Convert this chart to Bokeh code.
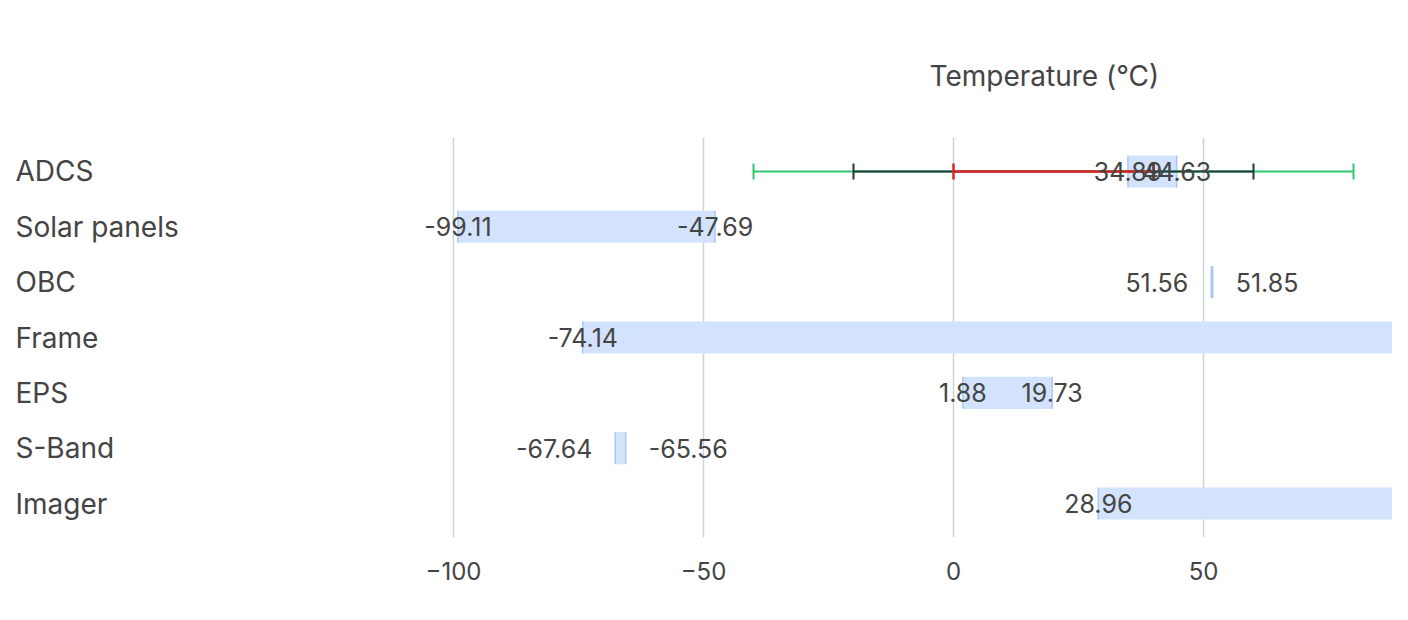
import numpy as np
from bokeh.plotting import figure
from bokeh.models import Range1d, FactorRange, FixedTicker, ColumnDataSource, Title
from bokeh.core.properties import value
from bokeh.embed import file_html
from bokeh.resources import INLINE

# ---------------- data ----------------
subsystems = ["ADCS", "Solar panels", "OBC", "Frame", "EPS", "S-Band", "Imager"]
temp_min = [34.89, -99.11, 51.56, -74.14, 1.88, -67.64, 28.96]
temp_max = [44.63, -47.69, 51.85, 112.0, 19.73, -65.56, 105.0]

limit_subsystem = ["ADCS", "ADCS", "ADCS"]
limit_lower = [-40, -20, 0]
limit_upper = [80, 60, 40]

x_ticks = [-100, -50, 0, 50]
x_tick_labels = ["\u2212100", "\u221250", "0", "50"]

# ---------------- style ----------------
FONT = "Inter"
TEXT_COLOR = "#444444"
limit_colors = ["#2ecc71", "#1d3b36", "#dc2626"]
limit_widths = [2, 2, 2.5]
W, H = 1392, 604
X_START = -190.6
X_END = X_START + W / 5.0
NARROW = 5.0

p = figure(
    width=W, height=H,
    x_range=Range1d(X_START, X_END),
    y_range=FactorRange(factors=subsystems[::-1], range_padding=0.113,
                        range_padding_units="absolute"),
    y_axis_location=None,
    output_backend="svg", toolbar_location=None,
    min_border_left=0, min_border_right=0, min_border_top=137, min_border_bottom=67,
)
p.outline_line_color = None
p.ygrid.visible = False
p.xgrid.ticker = FixedTicker(ticks=x_ticks)
p.xgrid.grid_line_color = "#cdd1da"
p.xgrid.grid_line_width = 1.5

ax = p.xaxis[0]
ax.ticker = FixedTicker(ticks=x_ticks)
ax.major_label_overrides = {t: s for t, s in zip(x_ticks, x_tick_labels)}
ax.axis_line_color = None
ax.major_tick_line_color = None
ax.minor_tick_line_color = None
ax.major_tick_out = 0
ax.major_label_standoff = 24
ax.major_label_text_font = FONT
ax.major_label_text_font_size = "24px"
ax.major_label_text_color = TEXT_COLOR

title = Title(text="Temperature (\u00b0C)", align="left", offset=929, standoff=90,
              text_font=FONT, text_font_size="28px", text_font_style="normal",
              text_color=TEXT_COLOR)
p.add_layout(title, "above")

# bars (fill, with thin edges at both ends only)
bars = ColumnDataSource(dict(y=subsystems, lo=temp_min, hi=temp_max))
p.hbar(y="y", left="lo", right="hi", height=0.58, source=bars,
       fill_color="#d3e3fd", line_color=None)
for end in ["lo", "hi"]:
    p.scatter(x=end, y="y", source=bars, marker="dash", angle=np.pi / 2, size=32,
              line_color="#a9c7f6", line_width=1.5)

# limit ranges for ADCS
for sub, lo, hi, col, lw in zip(limit_subsystem, limit_lower, limit_upper,
                                limit_colors, limit_widths):
    p.segment(x0=[lo], y0=[sub], x1=[hi], y1=[sub], line_color=col, line_width=lw)
    p.scatter(x=[lo, hi], y=[sub, sub], marker="dash", angle=np.pi / 2, size=16,
              line_color=col, line_width=lw)

# value labels (only for values inside the visible axis range)
lx, ly, lt, la, lo_ = [], [], [], [], []
for sub, lo, hi in zip(subsystems, temp_min, temp_max):
    narrow = (hi - lo) < NARROW
    aligns = ["right", "left"] if narrow else ["center", "center"]
    offs = [-23, 23] if narrow else [0, 0]
    for v, a, o in zip([lo, hi], aligns, offs):
        if X_START <= v <= X_END:
            lx.append(v); ly.append(sub); lt.append(f"{v:.2f}")
            la.append(a); lo_.append(o)
labels = ColumnDataSource(dict(x=lx, y=ly, t=lt, align=la, xoff=lo_))
p.text(x="x", y="y", text="t", text_align="align", x_offset="xoff", source=labels,
       text_baseline="middle", text_font=value(FONT), text_font_size="25px",
       text_color=TEXT_COLOR)

# category labels
cats = ColumnDataSource(dict(x=[X_START] * len(subsystems), y=subsystems, t=subsystems))
p.text(x="x", y="y", text="t", source=cats, x_offset=15, text_align="left",
       text_baseline="middle", text_font=value(FONT), text_font_size="28px",
       text_color=TEXT_COLOR)

open("out.html", "w").write(file_html(p, INLINE))
